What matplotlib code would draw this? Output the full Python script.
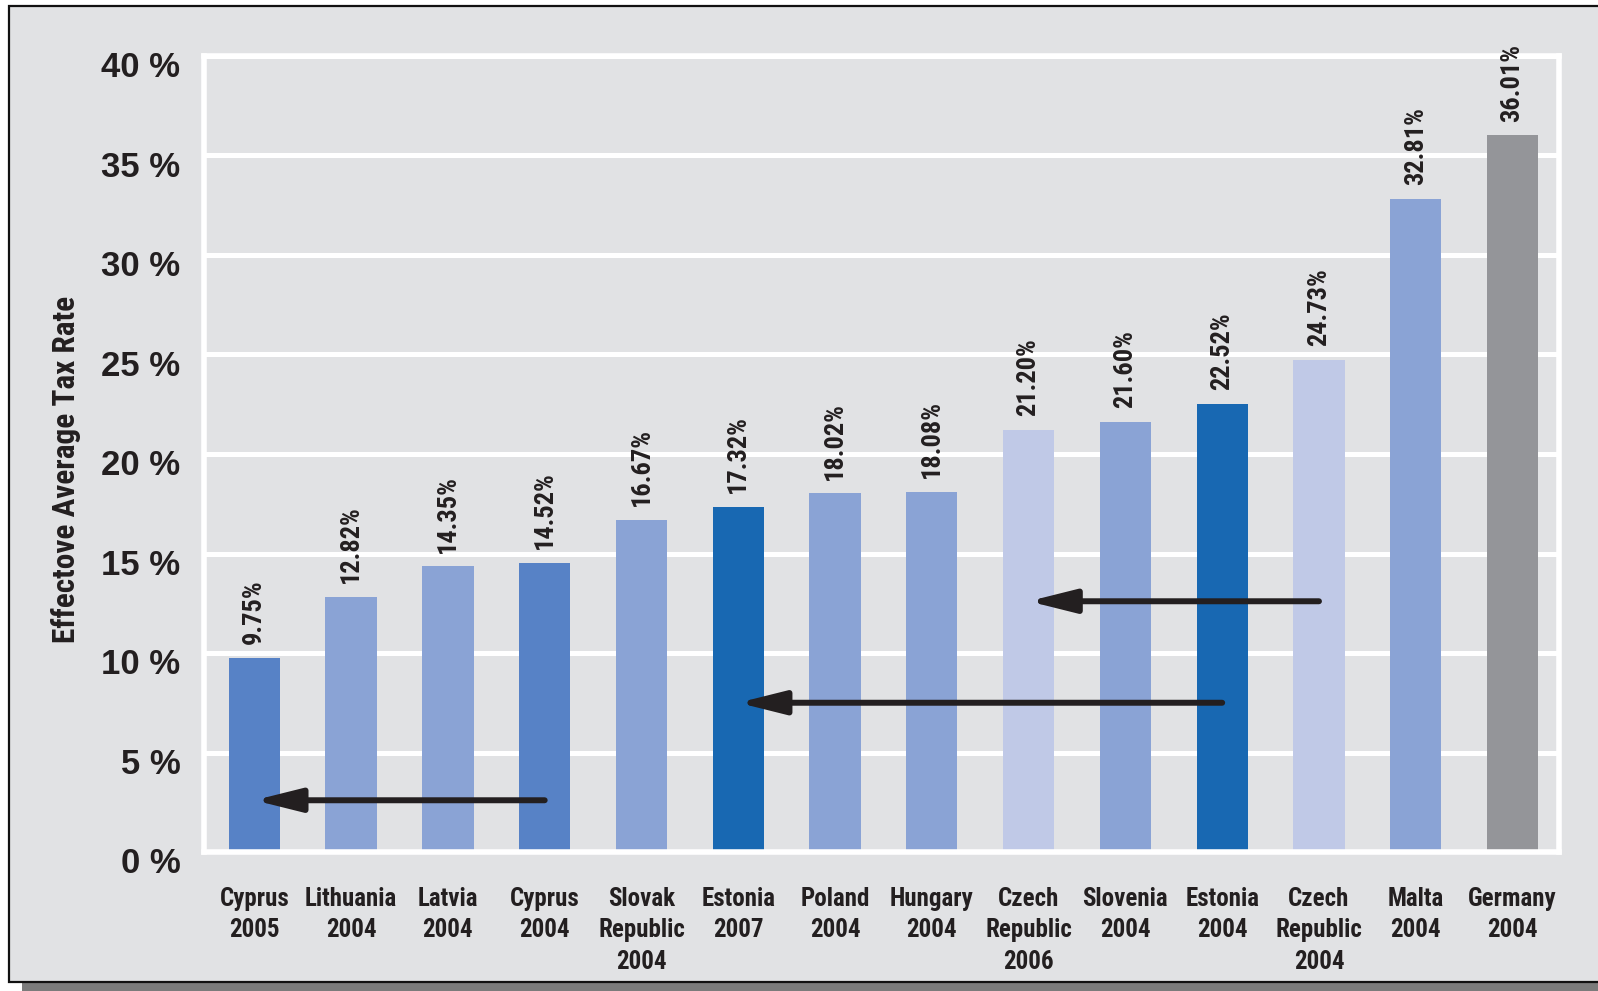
import matplotlib
matplotlib.use("Agg")
import matplotlib.pyplot as plt
from matplotlib.patches import Rectangle
from matplotlib.transforms import ScaledTranslation

# data
labels = ["Cyprus\n2005", "Lithuania\n2004", "Latvia\n2004", "Cyprus\n2004",
          "Slovak\nRepublic\n2004", "Estonia\n2007", "Poland\n2004", "Hungary\n2004",
          "Czech\nRepublic\n2006", "Slovenia\n2004", "Estonia\n2004",
          "Czech\nRepublic\n2004", "Malta\n2004", "Germany\n2004"]
rates = [9.75, 12.82, 14.35, 14.52, 16.67, 17.32, 18.02, 18.08,
         21.20, 21.60, 22.52, 24.73, 32.81, 36.01]
colors = ["#5782c6", "#8aa3d5", "#8aa3d5", "#5782c6", "#8aa3d5", "#1868b2",
          "#8aa3d5", "#8aa3d5", "#c0c9e7", "#8aa3d5", "#1868b2", "#c0c9e7",
          "#8aa3d5", "#949599"]
yticks = [0, 5, 10, 15, 20, 25, 30, 35, 40]
# arrows: (from bar, to bar, height in %)
arrows = [(3, 0, 2.6), (10, 5, 7.5), (11, 8, 12.6)]

BG = "#e1e2e4"
INK = "#231f20"
narrow = ["Roboto Condensed", "Archivo Narrow", "PT Sans Narrow",
          "Liberation Sans Narrow", "Liberation Sans", "DejaVu Sans"]
wide = ["Liberation Sans", "DejaVu Sans"]

fig = plt.figure(figsize=(15.98, 9.91), dpi=100)
fig.patch.set_facecolor("white")

# grey panel with black frame and shadow
fig.patches.append(Rectangle((22 / 1598, 0), 1 - 22 / 1598, 10 / 991,
                             transform=fig.transFigure, facecolor="#7b7b7b",
                             edgecolor="none", zorder=-3))
fig.patches.append(Rectangle((9 / 1598, 9 / 991), 1.01, 1 - 15 / 991,
                             transform=fig.transFigure, facecolor=BG,
                             edgecolor="#111111", linewidth=1.6, zorder=-2))

ax = fig.add_axes([204 / 1598, 139 / 991, 1355 / 1598, 796 / 991])
ax.set_facecolor(BG)
x = list(range(len(rates)))
ax.bar(x, rates, width=0.53, color=colors, zorder=2)

for i, r in zip(x, rates):
    ax.annotate(f"{r:.2f}%", (i, r), xytext=(0, 10), textcoords="offset points",
                rotation=90, ha="center", va="bottom", fontsize=19,
                fontweight="bold", family=narrow, color=INK)

for a, b, h in arrows:
    ax.annotate("", xy=(b, h), xytext=(a, h),
                arrowprops=dict(arrowstyle="-|>,head_length=2.8,head_width=0.7",
                                lw=4.3, color=INK, shrinkA=0, shrinkB=0),
                zorder=3)

ax.set_xlim(-0.52, 13.48)
ax.set_ylim(0, 40)
ax.set_yticks(yticks)
ax.set_yticklabels([f"{t} %" for t in yticks], fontsize=25, fontweight="bold",
                   family=wide, color=INK)
ax.set_xticks(x)
ax.set_xticklabels(labels, fontsize=18, fontweight="bold", family=narrow,
                   color=INK, linespacing=1.4)
ax.tick_params(axis="both", length=0)
ax.tick_params(axis="y", pad=17)
ax.tick_params(axis="x", pad=25)
for lab in ax.get_yticklabels():
    lab.set_transform(lab.get_transform() + ScaledTranslation(0, -6 / 72, fig.dpi_scale_trans))

ax.grid(axis="y", color="white", linewidth=3.6)
ax.set_axisbelow(True)
for s in ax.spines.values():
    s.set_color("white")
    s.set_linewidth(4)

ax.set_ylabel("Effectove Average Tax Rate", fontsize=22.5, fontweight="bold",
              family=narrow, color=INK)
ax.yaxis.set_label_coords(-0.091, 0.48)

fig.savefig("out.png", dpi=100, facecolor=fig.get_facecolor())
